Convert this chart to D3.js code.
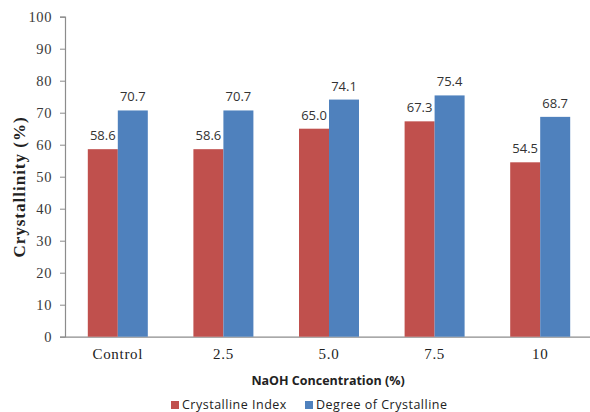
<!DOCTYPE html>
<html>
<head>
<meta charset="utf-8">
<script src="https://cdn.jsdelivr.net/npm/d3@7"></script>
<style>
  html, body { margin: 0; padding: 0; background: #fff; }
  svg { display: block; }
</style>
</head>
<body>
<svg id="chart" width="590" height="412"></svg>
<script>
// NaOH treatment: crystallinity measures per concentration
const categories = ["Control", "2.5", "5.0", "7.5", "10"];
const crystallineIndex = [58.6, 58.6, 65.0, 67.3, 54.5];
const degreeOfCrystalline = [70.7, 70.7, 74.1, 75.4, 68.7];
const yTicks = [0, 10, 20, 30, 40, 50, 60, 70, 80, 90, 100];
const seriesNames = ["Crystalline Index", "Degree of Crystalline"];
const seriesColors = ["#C0504D", "#4F81BD"];

const svg = d3.select("#chart");
const margin = { left: 65, right: -3, top: 16.7, bottom: 75.3 };
const W = 590, H = 412;

const x = d3.scaleBand()
  .domain(categories)
  .range([margin.left, W - margin.right])
  .paddingInner(0).paddingOuter(0);

const y = d3.scaleLinear()
  .domain([0, 100])
  .range([H - margin.bottom, margin.top]);

const sub = d3.scaleBand()
  .domain(seriesNames)
  .range([0, 60]);

const series = [crystallineIndex, degreeOfCrystalline];

// y axis
const yAxis = svg.append("g")
  .attr("transform", `translate(${margin.left},0)`)
  .call(d3.axisLeft(y).tickValues(yTicks).tickSize(5).tickPadding(8).tickFormat(d3.format("d")));
yAxis.select(".domain").attr("stroke", "#8c8c8c").attr("stroke-width", 1.2);
yAxis.selectAll(".tick line").attr("stroke", "#8c8c8c");
yAxis.selectAll(".tick text")
  .attr("font-family", "'Liberation Serif', 'Times New Roman', serif")
  .attr("font-size", 14.5)
  .attr("letter-spacing", 0.6)
  .attr("fill", "#3a3a3a");

// x axis line (no ticks)
const xAxis = svg.append("g")
  .attr("transform", `translate(0,${y(0)})`)
  .call(d3.axisBottom(x).tickSize(0).tickPadding(12));
xAxis.select(".domain").attr("stroke", "#8c8c8c").attr("stroke-width", 1.2);
xAxis.selectAll(".tick text")
  .attr("font-family", "'Liberation Serif', 'Times New Roman', serif")
  .attr("font-size", 15)
  .attr("letter-spacing", 0.7)
  .attr("fill", "#222");

// bars with value labels
series.forEach((vals, si) => {
  const barX = i => x(categories[i]) + x.bandwidth() / 2 - 30 + sub(seriesNames[si]);
  const g = svg.append("g");
  g.selectAll("rect")
    .data(vals)
    .join("rect")
    .attr("x", (d, i) => barX(i))
    .attr("y", d => y(d))
    .attr("width", sub.bandwidth())
    .attr("height", d => y(0) - y(d))
    .attr("fill", seriesColors[si]);

  g.selectAll("text")
    .data(vals)
    .join("text")
    .attr("x", (d, i) => barX(i) + sub.bandwidth() / 2)
    .attr("y", d => y(d) - 9)
    .attr("text-anchor", "middle")
    .attr("font-family", "'Open Sans', 'Liberation Sans', sans-serif")
    .attr("font-size", 13)
    .attr("fill", "#333")
    .text(d => d.toFixed(1));
});

// axis titles
svg.append("text")
  .attr("transform", `translate(25,187) rotate(-90)`)
  .attr("text-anchor", "middle")
  .attr("font-family", "'Liberation Serif', 'Times New Roman', serif")
  .attr("font-weight", "bold")
  .attr("font-size", 17)
  .attr("letter-spacing", 1)
  .attr("fill", "#222")
  .text("Crystallinity  (%)");

svg.append("text")
  .attr("x", 328)
  .attr("y", 385)
  .attr("text-anchor", "middle")
  .attr("font-family", "'Open Sans', 'Liberation Sans', sans-serif")
  .attr("font-weight", "bold")
  .attr("font-size", 12.5)
  .attr("fill", "#222")
  .text("NaOH Concentration (%)");

// legend
const legendX = [171, 305];
const legend = svg.append("g");
seriesNames.forEach((name, i) => {
  legend.append("rect")
    .attr("x", legendX[i]).attr("y", 401)
    .attr("width", 8).attr("height", 8)
    .attr("fill", seriesColors[i]);
  legend.append("text")
    .attr("x", legendX[i] + 11).attr("y", 409)
    .attr("font-family", "'Open Sans', 'Liberation Sans', sans-serif")
    .attr("font-size", 12.5)
    .attr("letter-spacing", 0.5)
    .attr("fill", "#222")
    .text(name);
});
</script>
</body>
</html>
